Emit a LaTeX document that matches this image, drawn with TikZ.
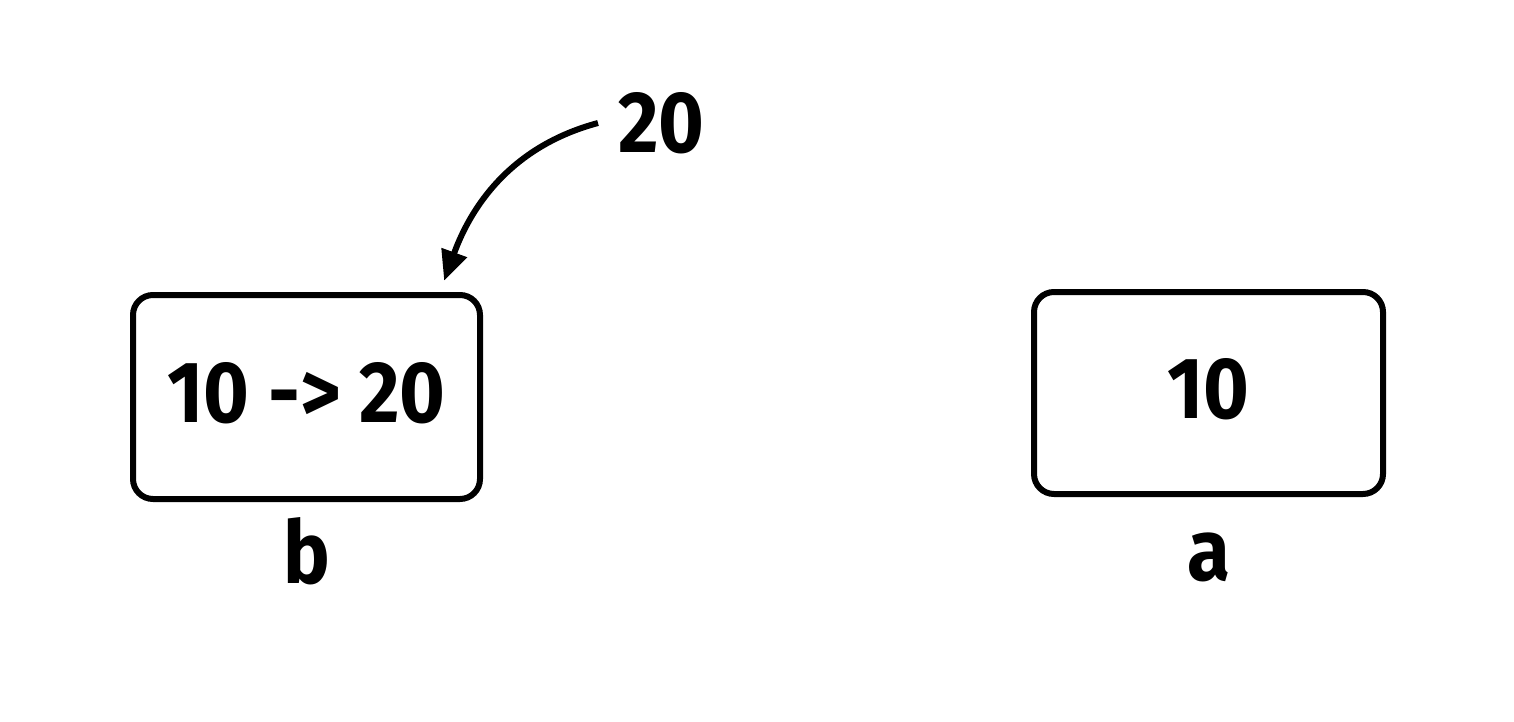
\documentclass[tikz,border=0pt]{standalone}
\usepackage{fontspec}
\setmainfont{Fira Sans}[FakeStretch=0.9]
\usetikzlibrary{positioning}
\usetikzlibrary{arrows.meta}

\begin{document}
\begin{tikzpicture}[x=1pt, y=-1pt, >={Triangle[length=30pt,width=26pt]},
  every node/.style={font=\fontsize{87}{100}\selectfont\bfseries},
  varbox/.style={draw, line width=6pt, rounded corners=20pt, text depth=10pt,
                 minimum width=347pt, minimum height=204pt, inner sep=0pt},
  varname/.style={inner sep=0pt, anchor=base}]

% --- canvas ---
\useasboundingbox (0,0) rectangle (1514,722);

% --- variables ---
\node[varbox] (boxb) at (306.5,397) {10 -> 20};
\node[varbox, minimum width=349pt, minimum height=202pt] (boxa) at (1208.5,393) {10};

% --- names under the boxes ---
\node[varname, below=81pt of boxb, anchor=base] (lblb) {b};
\node[varname, below=83pt of boxa, anchor=base] (lbla) {a};

% --- new value ---
\node[inner sep=0pt, anchor=west] (newval) at (618,123) {20};

% --- assignment arrow ---
\draw[->, line width=6pt, shorten >=12pt]
  ([xshift=-20pt]newval.west) to[out=195, in=70] ([xshift=133.5pt]boxb.north);

\end{tikzpicture}
\end{document}
